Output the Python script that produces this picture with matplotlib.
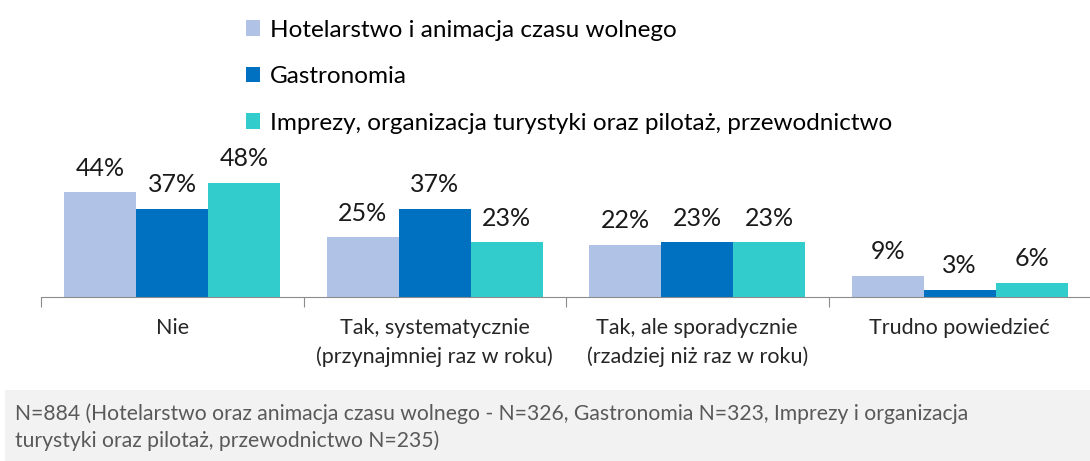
import numpy as np
import matplotlib.pyplot as plt
from matplotlib.patches import Rectangle

plt.rcParams['font.family'] = ['Lato', 'DejaVu Sans']

# data
categories = ["Nie", "Tak, systematycznie\n(przynajmniej raz w roku)",
              "Tak, ale sporadycznie\n(rzadziej niż raz w roku)", "Trudno powiedzieć"]
series_names = ["Hotelarstwo i animacja czasu wolnego", "Gastronomia",
                "Imprezy, organizacja turystyki oraz pilotaż, przewodnictwo"]
hotel = [44, 25, 22, 9]
gastro = [37, 37, 23, 3]
imprezy = [48, 23, 23, 6]
colors = ["#b0c3e6", "#0070c0", "#33cccc"]
footnote = ("N=884 (Hotelarstwo oraz animacja czasu wolnego - N=326, Gastronomia N=323, Imprezy i organizacja\n"
            "turystyki oraz pilotaż, przewodnictwo N=235)")

fig = plt.figure(figsize=(10.9, 4.61), dpi=100)
# axes: x 41..1091 px, y baseline at 297 px
ax = fig.add_axes([41/1090, (461-297)/461, 1050/1090, 150/461])

x = np.arange(len(categories))
w = 0.274
for i, vals in enumerate([hotel, gastro, imprezy]):
    bars = ax.bar(x + (i-1)*w, vals, w, color=colors[i], label=series_names[i])
    for b, v in zip(bars, vals):
        ax.text(b.get_x() + b.get_width()/2, v + 5.3, f"{v}%", ha='center', va='bottom',
                fontsize=18, color='#1a1a1a')

ax.set_xlim(-0.5, len(categories)-0.5)
ax.set_ylim(0, 63)
ax.set_yticks([])
for s in ['top', 'right', 'left']:
    ax.spines[s].set_visible(False)
ax.spines['bottom'].set_color('#8c8c8c')
ax.set_xticks(np.arange(len(categories)+1) - 0.5)
ax.set_xticklabels([])
ax.tick_params(axis='x', length=7, color='#8c8c8c')
ax.set_xticks(x, minor=True)
ax.set_xticklabels(categories, minor=True, fontsize=15.5, color='#262626', linespacing=1.5)
ax.tick_params(axis='x', which='minor', length=0, pad=15)

fig.legend(loc='upper left', bbox_to_anchor=(236/1090, 1 - 10/461), frameon=False,
           fontsize=17.5, handlelength=0.6, handleheight=0.6, handletextpad=0.4,
           labelspacing=1.05, borderaxespad=0)

# footnote box
fig.patches.append(Rectangle((5/1090, 0), 1085/1090, 71/461, transform=fig.transFigure,
                             facecolor='#f2f2f2', edgecolor='none', zorder=0))
fig.text(15/1090, (461-427)/461, footnote, ha='left', va='center',
         fontsize=15.2, color='#595959', linespacing=1.42)

fig.savefig("out.png", dpi=100)
